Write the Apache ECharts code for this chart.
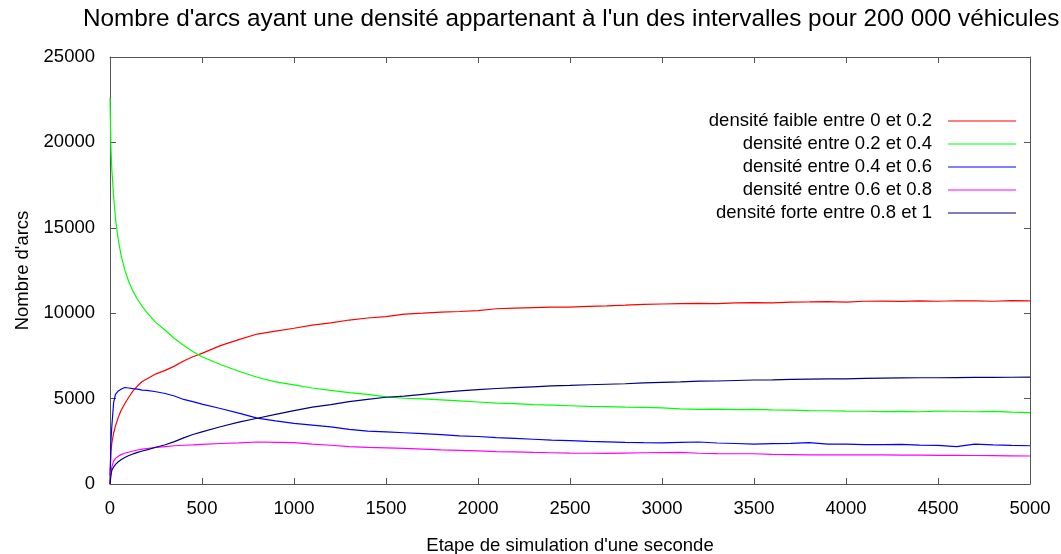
<!DOCTYPE html>
<html>
<head>
<meta charset="utf-8">
<title>Nombre d'arcs par intervalle de densité</title>
<script src="https://cdn.jsdelivr.net/npm/echarts@6/dist/echarts.min.js"></script>
<style>
  html, body { margin: 0; padding: 0; background: #fff; }
  #chart { width: 1061px; height: 554px; }
</style>
</head>
<body>
<div id="chart"></div>
<script>
// Simulation steps (seconds) at which the arc counts are sampled
const steps = [
  0, 5, 10, 20, 30, 45, 60, 80, 100, 125, 150, 175, 200, 250, 300, 350, 400, 450, 500,
  600, 700, 800, 900, 1000, 1100, 1200, 1300, 1400, 1500,
  1600, 1700, 1800, 1900, 2000, 2100, 2200, 2300, 2400, 2500,
  2600, 2700, 2800, 2900, 3000, 3100, 3200, 3300, 3400, 3500,
  3600, 3700, 3800, 3900, 4000, 4100, 4200, 4300, 4400, 4500,
  4600, 4700, 4800, 4900, 5000
];

// Number of arcs in each density interval
const faible_0_02 = [
  500, 1900, 2400, 3000, 3400, 3900, 4300, 4700, 5050, 5450, 5750, 6000, 6150, 6450, 6650, 6900, 7200, 7450, 7650,
  8100, 8450, 8780, 8950, 9120, 9300, 9430, 9600, 9720, 9800,
  9950, 10000, 10060, 10100, 10150, 10260, 10300, 10330, 10350, 10360,
  10400, 10430, 10470, 10520, 10540, 10560, 10580, 10560, 10600, 10620,
  10600, 10650, 10660, 10680, 10650, 10700, 10710, 10690, 10720, 10700,
  10730, 10720, 10700, 10740, 10720
];
const entre_02_04 = [
  22600, 19700, 18400, 16800, 15500, 14300, 13400, 12550, 11900, 11280, 10800, 10400, 10050, 9450, 9000, 8520, 8120, 7760, 7450,
  7000, 6600, 6250, 5980, 5800, 5620, 5480, 5350, 5250, 5100,
  5020, 4980, 4930, 4870, 4800, 4730, 4700, 4650, 4620, 4580,
  4540, 4530, 4500, 4490, 4460, 4400, 4370, 4380, 4360, 4370,
  4340, 4320, 4300, 4290, 4270, 4260, 4240, 4250, 4230, 4270,
  4260, 4230, 4250, 4210, 4180
];
const entre_04_06 = [
  0, 2500, 3400, 4800, 5250, 5450, 5550, 5650, 5620, 5580, 5550, 5500, 5480, 5400, 5300, 5150, 4950, 4820, 4680,
  4420, 4150, 3860, 3700, 3550, 3450, 3350, 3200, 3100, 3050,
  3000, 2950, 2890, 2820, 2780, 2720, 2670, 2620, 2570, 2540,
  2490, 2470, 2440, 2420, 2410, 2440, 2460, 2400, 2370, 2340,
  2360, 2380, 2420, 2340, 2330, 2310, 2300, 2320, 2280, 2260,
  2190, 2330, 2290, 2260, 2240
];
const entre_06_08 = [
  0, 700, 1000, 1350, 1500, 1620, 1720, 1800, 1860, 1930, 1990, 2040, 2080, 2140, 2190, 2240, 2270, 2290, 2320,
  2370, 2410, 2460, 2440, 2420, 2340, 2270, 2190, 2140, 2110,
  2080, 2040, 2000, 1970, 1940, 1900, 1880, 1850, 1830, 1810,
  1800, 1790, 1810, 1830, 1840, 1850, 1800, 1780, 1770, 1770,
  1740, 1720, 1700, 1700, 1710, 1700, 1700, 1690, 1690, 1680,
  1680, 1670, 1660, 1650, 1640
];
const forte_08_1 = [
  0, 500, 800, 1000, 1150, 1300, 1420, 1550, 1650, 1760, 1850, 1930, 2000, 2150, 2300, 2480, 2700, 2900, 3050,
  3350, 3620, 3850, 4080, 4300, 4500, 4650, 4820, 4950, 5080,
  5140, 5250, 5360, 5450, 5520, 5590, 5640, 5690, 5740, 5770,
  5810, 5840, 5870, 5920, 5950, 5980, 6020, 6030, 6060, 6090,
  6100, 6120, 6140, 6150, 6160, 6180, 6200, 6210, 6220, 6220,
  6230, 6240, 6240, 6250, 6260
];

const seriesNames = [
  'densité faible entre 0 et 0.2',
  'densité entre 0.2 et 0.4',
  'densité entre 0.4 et 0.6',
  'densité entre 0.6 et 0.8',
  'densité forte entre 0.8 et 1'
];
const seriesValues = [faible_0_02, entre_02_04, entre_04_06, entre_06_08, forte_08_1];
const seriesColors = ['#ff0000', '#00ff00', '#0000ff', '#ff00ff', '#000080'];

// Axis ranges
const xTicks = [0, 500, 1000, 1500, 2000, 2500, 3000, 3500, 4000, 4500, 5000];
const yTicks = [0, 5000, 10000, 15000, 20000, 25000];

const FONT = 'Liberation Sans, Arial, sans-serif';
const AXIS_COLOR = '#555555';
const LABEL_SIZE = 18.5;

const frameAxis = (extra) => Object.assign({
  type: 'value',
  axisLine: { show: true, onZero: false, lineStyle: { color: AXIS_COLOR, width: 1 } },
  axisTick: { show: true, inside: true, length: 6, lineStyle: { color: AXIS_COLOR } },
  splitLine: { show: false }
}, extra);

const chart = echarts.init(document.getElementById('chart'), null, { renderer: 'canvas' });

chart.setOption({
  animation: false,
  backgroundColor: '#ffffff',
  title: {
    text: "Nombre d'arcs ayant une densité appartenant à l'un des intervalles pour 200 000 véhicules",
    left: 83,
    top: 7,
    padding: 0,
    textStyle: { fontFamily: FONT, fontSize: 24.3, fontWeight: 'normal', color: '#000' }
  },
  grid: { left: 110, right: 31, top: 57, bottom: 70, containLabel: false, outerBoundsMode: 'none' },
  legend: {
    orient: 'vertical',
    align: 'right',
    right: 45,
    top: 111,
    padding: 0,
    icon: 'rect',
    itemWidth: 68,
    itemHeight: 1,
    itemGap: 3,
    data: seriesNames,
    textStyle: {
      fontFamily: FONT, fontSize: LABEL_SIZE, color: '#000',
      lineHeight: 20, padding: [0, 11, 0, 0]
    }
  },
  xAxis: [
    frameAxis({
      position: 'bottom',
      min: xTicks[0], max: xTicks[xTicks.length - 1], interval: xTicks[1] - xTicks[0],
      name: "Etape de simulation d'une seconde",
      nameLocation: 'middle', nameGap: 52,
      nameTextStyle: { fontFamily: FONT, fontSize: LABEL_SIZE, color: '#000' },
      axisLabel: { margin: 15, fontFamily: FONT, fontSize: LABEL_SIZE, color: '#000',
                   formatter: (v) => String(v) }
    }),
    frameAxis({
      position: 'top',
      min: xTicks[0], max: xTicks[xTicks.length - 1], interval: xTicks[1] - xTicks[0],
      axisLabel: { show: false }
    })
  ],
  yAxis: [
    frameAxis({
      position: 'left',
      min: yTicks[0], max: yTicks[yTicks.length - 1], interval: yTicks[1] - yTicks[0],
      name: "Nombre d'arcs",
      nameLocation: 'middle', nameGap: 78,
      nameTextStyle: { fontFamily: FONT, fontSize: LABEL_SIZE, color: '#000' },
      axisLabel: { margin: 15, fontFamily: FONT, fontSize: LABEL_SIZE, color: '#000',
                   formatter: (v) => String(v) }
    }),
    frameAxis({
      position: 'right',
      min: yTicks[0], max: yTicks[yTicks.length - 1], interval: yTicks[1] - yTicks[0],
      axisLabel: { show: false }
    })
  ],
  series: seriesNames.map((name, i) => ({
    name: name,
    type: 'line',
    xAxisIndex: 0,
    yAxisIndex: 0,
    showSymbol: false,
    symbol: 'none',
    smooth: false,
    color: seriesColors[i],
    lineStyle: { color: seriesColors[i], width: 1.2 },
    data: steps.map((s, k) => [s, seriesValues[i][k]])
  }))
});
</script>
</body>
</html>
